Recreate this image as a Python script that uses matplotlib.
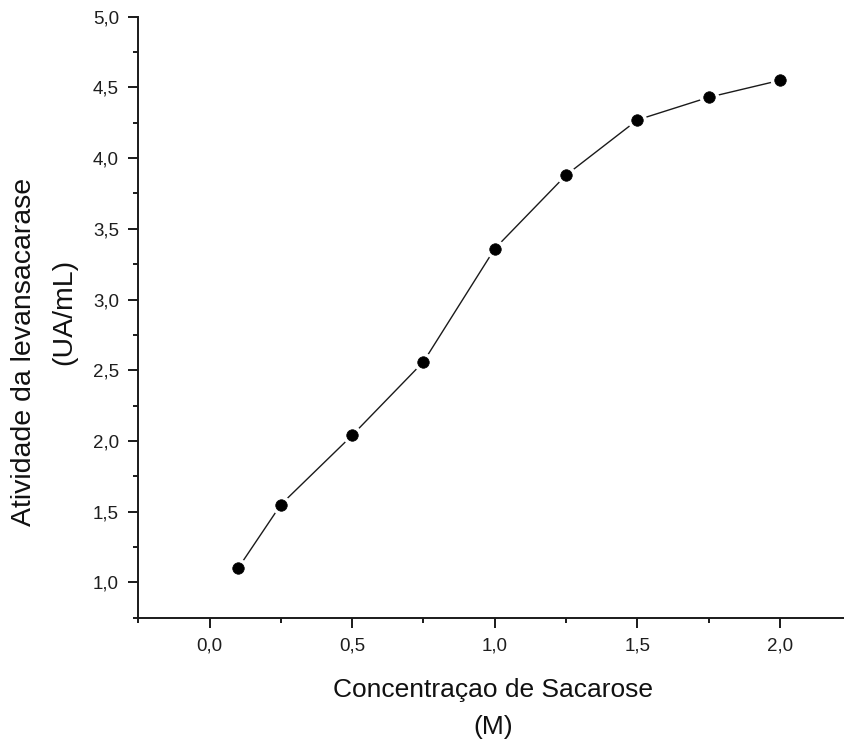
import matplotlib.pyplot as plt
from matplotlib.ticker import MultipleLocator, FuncFormatter

# sucrose concentration (M) vs levansucrase activity (UA/mL)
sacarose = [0.10, 0.25, 0.50, 0.75, 1.00, 1.25, 1.50, 1.75, 2.00]
atividade = [1.10, 1.55, 2.04, 2.56, 3.36, 3.88, 4.27, 4.43, 4.55]

W, H = 845, 742
plt.rcParams['font.family'] = ['Liberation Sans', 'DejaVu Sans']

fig = plt.figure(figsize=(W / 100, H / 100), dpi=100)
# axis box in pixel units -> figure fraction (right end runs past the edge)
left, right, top, bottom = 138.3, 851.3, 16.7, 617.7
ax = fig.add_axes([left / W, 1 - bottom / H, (right - left) / W, (bottom - top) / H])

ax.plot(sacarose, atividade, color='#1a1a1a', lw=1.0, zorder=2)
# white halo leaves a small gap between line and marker
ax.plot(sacarose, atividade, ls='none', marker='o', ms=14, mfc='white', mec='none', zorder=3)
ax.plot(sacarose, atividade, ls='none', marker='o', ms=8.3, mfc='black', mec='black', mew=0.5, zorder=4)

ax.set_xlim(-0.25, 2.25)
ax.set_ylim(0.75, 5.0)
ax.xaxis.set_minor_locator(MultipleLocator(0.25))
ax.yaxis.set_minor_locator(MultipleLocator(0.25))
ax.set_yticks([1.0, 1.5, 2.0, 2.5, 3.0, 3.5, 4.0, 4.5, 5.0])
ax.set_xticks([0.0, 0.5, 1.0, 1.5, 2.0])
comma = FuncFormatter(lambda v, p: f'{v:.1f}'.replace('.', ','))
ax.xaxis.set_major_formatter(comma)
ax.yaxis.set_major_formatter(comma)

for s in ('top', 'right'):
    ax.spines[s].set_visible(False)
for s in ('left', 'bottom'):
    ax.spines[s].set_linewidth(1.4)
    ax.spines[s].set_color('#1a1a1a')

ax.tick_params(which='major', direction='out', length=7.5, width=1.4, color='#1a1a1a',
               labelsize=13.5, labelcolor='#1e1e1e', pad=6.5)
ax.tick_params(which='minor', direction='out', length=3.8, width=1.4, color='#1a1a1a')

# axis titles placed by pixel position
fig.text(493 / W, 1 - 690 / H, 'Concentraçao de Sacarose', fontsize=19,
         color='#111111', ha='center', va='center')
fig.text(493 / W, 1 - 727 / H, '(M)', fontsize=19, color='#111111',
         ha='center', va='center')
fig.text(24 / W, 1 - 352 / H, 'Atividade da levansacarase', fontsize=20.5,
         color='#111111', ha='center', va='center', rotation=90)
fig.text(64 / W, 1 - 312 / H, '(UA/mL)', fontsize=20.5, color='#111111',
         ha='center', va='center', rotation=90)

fig.savefig('out.png', dpi=100)
